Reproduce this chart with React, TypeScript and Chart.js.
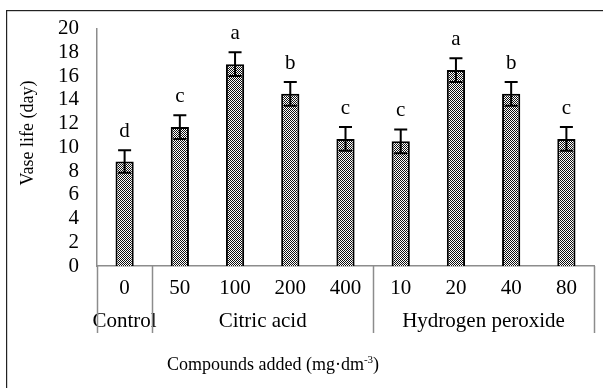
import React, { useEffect, useRef } from "react";
import { Chart, registerables } from "chart.js";

Chart.register(...registerables);

const categories = ["0", "50", "100", "200", "400", "10", "20", "40", "80"];
const vaseLife = [8.8, 11.7, 17.0, 14.5, 10.7, 10.5, 16.5, 14.5, 10.7];
const errors = [0.95, 1.0, 1.0, 1.0, 1.0, 1.0, 1.0, 1.0, 1.0];
const letters = ["d", "c", "a", "b", "c", "c", "a", "b", "c"];
const groupNames = ["Control", "Citric acid", "Hydrogen peroxide"];
const groupSizes = [1, 4, 4];
const yTitle = "Vase life (day)";
const xTitleMain = "Compounds added (mg·dm";
const xTitleSup = "-3";
const xTitleEnd = ")";

const FONT = '"Liberation Serif", "Times New Roman", serif';

function makePattern(): CanvasPattern | string {
  const c = document.createElement("canvas");
  c.width = 2;
  c.height = 2;
  const g = c.getContext("2d");
  if (!g) return "#666";
  g.fillStyle = "#ffffff";
  g.fillRect(0, 0, 2, 2);
  g.fillStyle = "#111111";
  g.fillRect(0, 0, 1, 1);
  g.fillRect(1, 1, 1, 1);
  const p = g.createPattern(c, "repeat");
  return p || "#666";
}

const decor = {
  id: "decor",
  afterDatasetsDraw(chart: any) {
    const ctx = chart.ctx as CanvasRenderingContext2D;
    const y = chart.scales.y;
    const meta = chart.getDatasetMeta(0);
    ctx.save();
    ctx.strokeStyle = "#000";
    ctx.lineWidth = 2;
    ctx.fillStyle = "#000";
    ctx.font = `21px ${FONT}`;
    ctx.textAlign = "center";
    ctx.textBaseline = "alphabetic";
    meta.data.forEach((bar: any, i: number) => {
      const cx = bar.x;
      const top = y.getPixelForValue(vaseLife[i] + errors[i]);
      const bot = y.getPixelForValue(vaseLife[i] - errors[i]);
      const hw = 6.5;
      ctx.beginPath();
      ctx.moveTo(cx, top);
      ctx.lineTo(cx, bot);
      ctx.moveTo(cx - hw, top);
      ctx.lineTo(cx + hw, top);
      ctx.moveTo(cx - hw, bot);
      ctx.lineTo(cx + hw, bot);
      ctx.stroke();
      ctx.fillText(letters[i], cx, top - 13);
    });
    ctx.restore();
  },
  afterDraw(chart: any) {
    const ctx = chart.ctx as CanvasRenderingContext2D;
    const x = chart.scales.x;
    const area = chart.chartArea;
    ctx.save();
    // outer frame: left and top edges
    ctx.fillStyle = "#222";
    ctx.fillRect(6, 10, 1.2, 378);
    ctx.fillRect(6, 10, 597, 1.2);

    const step = x.getPixelForValue(1) - x.getPixelForValue(0);
    ctx.strokeStyle = "#8c8c8c";
    ctx.lineWidth = 1.5;
    let idx = 0;
    const bounds: number[] = [x.getPixelForValue(0) - step / 2];
    ctx.fillStyle = "#000";
    ctx.font = `21px ${FONT}`;
    ctx.textAlign = "center";
    ctx.textBaseline = "middle";
    groupNames.forEach((name, gi) => {
      const start = idx;
      const end = idx + groupSizes[gi] - 1;
      const left = x.getPixelForValue(start) - step / 2;
      const right = x.getPixelForValue(end) + step / 2;
      bounds.push(right);
      ctx.fillText(name, (left + right) / 2, 321);
      idx = end + 1;
    });
    bounds.forEach((b) => {
      const xx = Math.round(b) + 0.5;
      ctx.beginPath();
      ctx.moveTo(xx, area.bottom);
      ctx.lineTo(xx, 333);
      ctx.stroke();
    });

    ctx.fillStyle = "#000";
    ctx.textBaseline = "alphabetic";
    ctx.textAlign = "left";
    ctx.font = `18px ${FONT}`;
    const w1 = ctx.measureText(xTitleMain).width;
    ctx.font = `11px ${FONT}`;
    const w2 = ctx.measureText(xTitleSup).width;
    ctx.font = `18px ${FONT}`;
    const w3 = ctx.measureText(xTitleEnd).width;
    const total = w1 + w2 + w3;
    const tx = 273 - total / 2;
    const ty = 370;
    ctx.fillText(xTitleMain, tx, ty);
    ctx.font = `11px ${FONT}`;
    ctx.fillText(xTitleSup, tx + w1, ty - 7);
    ctx.font = `18px ${FONT}`;
    ctx.fillText(xTitleEnd, tx + w1 + w2, ty);

    ctx.translate(28, 133);
    ctx.rotate(-Math.PI / 2);
    ctx.textAlign = "center";
    ctx.textBaseline = "middle";
    ctx.font = `18px ${FONT}`;
    ctx.fillText(yTitle, 0, 0);
    ctx.restore();
  },
};

export default function App() {
  const ref = useRef<HTMLCanvasElement | null>(null);
  useEffect(() => {
    if (!ref.current) return;
    const chart = new Chart(ref.current, {
      type: "bar",
      data: {
        labels: categories,
        datasets: [
          {
            data: vaseLife,
            backgroundColor: makePattern() as any,
            borderColor: "#000",
            borderWidth: 2,
            categoryPercentage: 1,
            barPercentage: 0.33,
          },
        ],
      },
      options: {
        animation: false,
        responsive: false,
        layout: { padding: { left: 0, right: 11, top: 22, bottom: 0 } },
        plugins: {
          legend: { display: false },
          tooltip: { enabled: false },
        },
        scales: {
          x: {
            grid: { display: false, drawTicks: false },
            border: { display: true, color: "#8c8c8c", width: 1.5 },
            ticks: {
              color: "#000",
              font: { family: FONT, size: 21 },
              padding: 10,
              maxRotation: 0,
              autoSkip: false,
            },
            afterFit(scale: any) {
              scale.height = 122;
            },
          },
          y: {
            min: 0,
            max: 20,
            grid: { display: false, drawTicks: false },
            border: { display: true, color: "#8c8c8c", width: 1.5 },
            ticks: {
              stepSize: 2,
              autoSkip: false,
              color: "#000",
              font: { family: FONT, size: 21, lineHeight: 1 },
              padding: 18,
            },
            afterFit(scale: any) {
              scale.width = 97;
            },
          },
        },
      },
      plugins: [decor],
    });
    return () => chart.destroy();
  }, []);
  return (
    <div style={{ position: "fixed", left: 0, top: 0, width: 605, height: 388, background: "#fff" }}>
      <canvas ref={ref} width={605} height={388} style={{ width: 605, height: 388, display: "block" }} />
    </div>
  );
}
